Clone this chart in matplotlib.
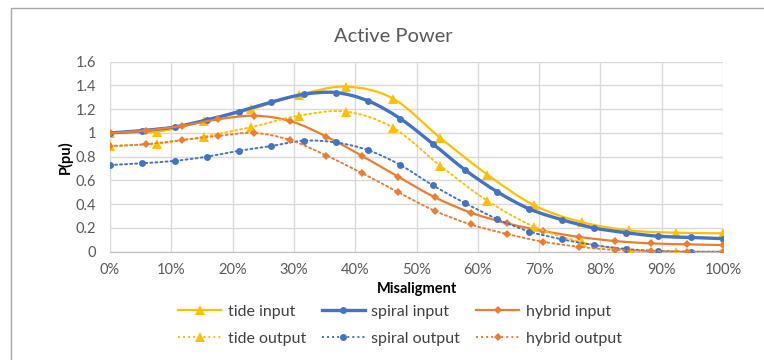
import numpy as np
import matplotlib
matplotlib.use("Agg")
import matplotlib.pyplot as plt
from matplotlib.path import Path
from matplotlib.patches import PathPatch, Rectangle
from matplotlib.lines import Line2D

plt.rcParams["font.family"] = ["Lato", "DejaVu Sans"]

# misalignment positions (%) for each design
tide_x = [0, 7.69, 15.38, 23.08, 30.77, 38.46, 46.15, 53.85, 61.54, 69.23,
          76.92, 84.62, 92.31, 100]
spiral_x = [0, 5.26, 10.53, 15.79, 21.05, 26.32, 31.58, 36.84, 42.11, 47.37,
            52.63, 57.89, 63.16, 68.42, 73.68, 78.95, 84.21, 89.47, 94.74, 100]
hybrid_x = [0, 5.88, 11.76, 17.65, 23.53, 29.41, 35.29, 41.18, 47.06, 52.94,
            58.82, 64.71, 70.59, 76.47, 82.35, 88.24, 94.12, 100]

# active power (pu)
tide_in = [1.0, 1.01, 1.10, 1.20, 1.32, 1.39, 1.29, 0.96, 0.65, 0.39,
           0.25, 0.18, 0.16, 0.155]
tide_out = [0.89, 0.91, 0.97, 1.05, 1.145, 1.18, 1.045, 0.725, 0.43, 0.21,
            0.08, 0.015, 0.0, 0.0]
spiral_in = [1.0, 1.02, 1.05, 1.11, 1.18, 1.26, 1.325, 1.34, 1.27, 1.12,
             0.91, 0.69, 0.505, 0.36, 0.27, 0.20, 0.16, 0.13, 0.12, 0.11]
spiral_out = [0.73, 0.745, 0.765, 0.80, 0.85, 0.89, 0.935, 0.92, 0.855, 0.73,
              0.56, 0.41, 0.275, 0.17, 0.105, 0.056, 0.023, 0.006, 0.0, 0.0]
hybrid_in = [1.0, 1.02, 1.06, 1.115, 1.145, 1.10, 0.97, 0.805, 0.63, 0.46,
             0.33, 0.24, 0.175, 0.125, 0.09, 0.07, 0.062, 0.056]
hybrid_out = [0.89, 0.905, 0.94, 0.975, 1.0, 0.94, 0.81, 0.66, 0.50, 0.345,
              0.23, 0.15, 0.085, 0.042, 0.015, 0.006, 0.0, 0.0]

YELLOW, BLUE, ORANGE = "#FFC000", "#4472C4", "#ED7D31"


def smooth_path(x, y):
    # Catmull-Rom style bezier through the points (like Excel "smoothed line")
    pts = np.column_stack([x, y]).astype(float)
    ext = np.vstack([pts[0], pts, pts[-1]])
    verts, codes = [pts[0]], [Path.MOVETO]
    for i in range(len(pts) - 1):
        p0, p1, p2, p3 = ext[i], ext[i + 1], ext[i + 2], ext[i + 3]
        verts += [p1 + (p2 - p0) / 6, p2 - (p3 - p1) / 6, p2]
        codes += [Path.CURVE4] * 3
    return Path(verts, codes)


dot = (0, (1, 1.6))
series = [
    ("tide input", tide_x, tide_in, YELLOW, "-", 1.6, "^", 7),
    ("spiral input", spiral_x, spiral_in, BLUE, "-", 2.4, "o", 5),
    ("hybrid input", hybrid_x, hybrid_in, ORANGE, "-", 1.6, "D", 4.2),
    ("tide output", tide_x, tide_out, YELLOW, dot, 1.4, "^", 7),
    ("spiral output", spiral_x, spiral_out, BLUE, dot, 1.4, "o", 5),
    ("hybrid output", hybrid_x, hybrid_out, ORANGE, dot, 1.4, "D", 4.2),
]

fig = plt.figure(figsize=(7.64, 3.6), dpi=100)
ax = fig.add_axes([110 / 764, 1 - 251.7 / 360, 613 / 764, 190 / 360])

# chart area border
fig.patches.append(Rectangle((11 / 764, -0.1), 1.2, 1 - 8 / 360 + 0.1,
                             transform=fig.transFigure, fill=False,
                             edgecolor="#A6A6A6", lw=1.0))

handles = {}
for z, (name, x, y, c, ls, lw, mk, ms) in enumerate(series):
    ax.add_patch(PathPatch(smooth_path(x, y), facecolor="none", edgecolor=c,
                           lw=lw, linestyle=ls, capstyle="round",
                           zorder=3 + 0.1 * z))
    ax.plot(x, y, linestyle="none", marker=mk, color=c, markersize=ms,
            markeredgewidth=0, zorder=3.05 + 0.1 * z)
    handles[name] = Line2D([], [], color=c, lw=lw, linestyle=ls, marker=mk,
                           markersize=ms, markeredgewidth=0)

ax.set_xlim(0, 100)
ax.set_ylim(0, 1.6)
ax.set_xticks(np.arange(0, 101, 10))
ax.set_xticklabels([f"{v}%" for v in range(0, 101, 10)])
ax.set_yticks(np.arange(0, 1.61, 0.2))
ax.set_yticklabels(["0", "0.2", "0.4", "0.6", "0.8", "1", "1.2", "1.4", "1.6"])
ax.grid(True, color="#D9D9D9", lw=1.0)
ax.set_axisbelow(True)
for s in ax.spines.values():
    s.set_visible(False)
ax.spines["left"].set_visible(True)
ax.spines["left"].set_color("#D9D9D9")
ax.spines["bottom"].set_visible(True)
ax.spines["bottom"].set_color("#BFBFBF")
ax.tick_params(length=0, labelsize=10.5, labelcolor="#595959", pad=8)
ax.tick_params(axis="y", pad=10)

ax.set_xlabel("Misaligment", fontsize=10.5, fontweight="bold", labelpad=4)
ax.set_ylabel("P(pu)", fontsize=10.5, fontweight="bold", labelpad=2)

fig.text(393 / 764, 1 - 37 / 360, "Active Power", ha="center", va="center",
         fontsize=14.5, color="#595959")

order = ["tide input", "tide output", "spiral input", "spiral output",
         "hybrid input", "hybrid output"]
fig.legend([handles[n] for n in order], order, ncol=3, frameon=False,
           loc="center", bbox_to_anchor=(400 / 764, 1 - 325 / 360),
           fontsize=11.5, handlelength=2.7, columnspacing=1.0,
           labelspacing=0.8, handletextpad=0.4, labelcolor="#404040")

fig.savefig("out.png", dpi=100)
